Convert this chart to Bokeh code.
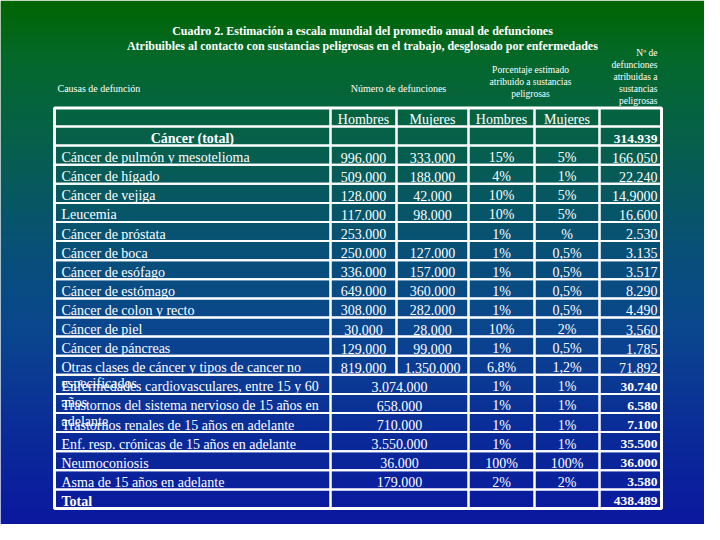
import numpy as np
from bokeh.plotting import figure
from bokeh.models import ColumnDataSource, Range1d
from bokeh.core.properties import value
from bokeh.embed import file_html
from bokeh.resources import INLINE

# ---------------- data ----------------
title_lines = [
    "Cuadro 2. Estimación a escala mundial del promedio anual de defunciones",
    "Atribuibles al contacto con sustancias peligrosas en el trabajo, desglosado por enfermedades",
]
head_causes = "Causas de defunción"
head_number = "Número de defunciones"
head_percent = ["Porcentaje estimado", "atribuido a sustancias", "peligrosas"]
head_attrib = ["Nº de", "defunciones", "atribuidas a", "sustancias", "peligrosas"]
sub_heads = ["Hombres", "Mujeres", "Hombres", "Mujeres"]

causes = [
    "Cáncer (total)",
    "Cáncer de pulmón y mesotelioma",
    "Cáncer de hígado",
    "Cáncer de vejiga",
    "Leucemia",
    "Cáncer de próstata",
    "Cáncer de boca",
    "Cáncer de esófago",
    "Cáncer de estómago",
    "Cáncer de colon y recto",
    "Cáncer de piel",
    "Cáncer de páncreas",
    "Otras clases de cáncer y tipos de cancer no",
    "Enfermedades cardiovasculares, entre 15 y 60",
    "Trastornos del sistema nervioso de 15 años en",
    "Trastornos renales de 15 años en adelante",
    "Enf. resp. crónicas de 15 años en adelante",
    "Neumoconiosis",
    "Asma de 15 años en adelante",
    "Total",
]
causes_wrap = ["", "", "", "", "", "", "", "", "", "", "", "",
               "especificados", "años", "adelante", "", "", "", "", ""]
deaths_men = ["", "996.000", "509.000", "128.000", "117.000", "253.000", "250.000",
              "336.000", "649.000", "308.000", "30.000", "129.000", "819.000",
              "3.074.000", "658.000", "710.000", "3.550.000", "36.000", "179.000", ""]
deaths_women = ["", "333.000", "188.000", "42.000", "98.000", "", "127.000",
                "157.000", "360.000", "282.000", "28.000", "99.000", "1.350.000",
                "", "", "", "", "", "", ""]
deaths_merged = [False] * 13 + [True] * 7
pct_men = ["", "15%", "4%", "10%", "10%", "1%", "1%", "1%", "1%", "1%", "10%", "1%",
           "6,8%", "1%", "1%", "1%", "1%", "100%", "2%", ""]
pct_women = ["", "5%", "1%", "5%", "5%", "%", "0,5%", "0,5%", "0,5%", "0,5%", "2%",
             "0,5%", "1,2%", "1%", "1%", "1%", "1%", "100%", "2%", ""]
attributed = ["314.939", "166.050", "22.240", "14.9000", "16.600", "2.530", "3.135",
              "3.517", "8.290", "4.490", "3.560", "1.785", "71.892", "30.740",
              "6.580", "7.100", "35.500", "36.000", "3.580", "438.489"]
attributed_bold = [True] + [False] * 12 + [True] * 7

# ---------------- layout / style ----------------
FONT = value("Liberation Serif")
PW, PH = 704, 524
col_edges = [54, 330, 396, 468, 534, 599, 661]
TABLE_TOP = 107.5
ROWS_TOP = 126.0
PITCH = 19.1
n = len(causes)

p = figure(width=PW, height=PH, output_backend="svg", toolbar_location=None,
           x_axis_type=None, y_axis_type=None,
           x_range=Range1d(0, PW), y_range=Range1d(PH, 0),
           min_border=0, outline_line_color=None)
p.grid.visible = False

# background vertical gradient (styling)
stops_y = [0, 60, 140, 250, 330, 430, 540]
stops_c = np.array([(0, 102, 0), (4, 104, 44), (6, 96, 74), (8, 80, 120),
                    (10, 70, 142), (10, 44, 152), (10, 20, 160)], dtype=float)
ys = np.arange(0, PH, 2)
cols = []
for y in ys:
    rgb = [np.interp(y + 1, stops_y, stops_c[:, k]) for k in range(3)]
    cols.append("#%02x%02x%02x" % tuple(int(round(v)) for v in rgb))
p.quad(left=0, right=PW, top=ys, bottom=ys + 3, fill_color=cols, line_color=None)

# table cells
L, R, T, B = [], [], [], []
for a, b in zip(col_edges[:-1], col_edges[1:]):
    L.append(a); R.append(b); T.append(TABLE_TOP); B.append(ROWS_TOP)
for i in range(n):
    edges = col_edges if not deaths_merged[i] else [e for e in col_edges if e != 396]
    t = ROWS_TOP + i * PITCH
    for a, b in zip(edges[:-1], edges[1:]):
        L.append(a); R.append(b); T.append(t); B.append(t + PITCH)
p.quad(left=L, right=R, top=T, bottom=B, fill_color=None,
       line_color="white", line_width=2)
p.quad(left=col_edges[0], right=col_edges[-1], top=TABLE_TOP,
       bottom=ROWS_TOP + n * PITCH, fill_color=None, line_color="white", line_width=3)


def txt(x, y, t, size, align="left", bold=False):
    src = ColumnDataSource(dict(x=x, y=y, t=t))
    p.text(x="x", y="y", text="t", source=src, text_font=FONT,
           text_font_size=size, text_color="white", text_align=align,
           text_baseline="middle", text_font_style="bold" if bold else "normal")


# titles
txt([362, 362], [30, 45], title_lines, "12px", align="center", bold=True)
txt([57], [88], [head_causes], "10px")
txt([398], [88], [head_number], "10px", align="center")
txt([530] * 3, [69, 81, 93], head_percent, "9.5px", align="center")
txt([657] * 5, [52, 64, 76, 88, 100], head_attrib, "9.5px", align="right")

# sub headers
sub_x = [(col_edges[k] + col_edges[k + 1]) / 2 for k in range(1, 5)]
txt(sub_x, [119] * 4, sub_heads, "14px", align="center")

# row texts
mid = [ROWS_TOP + i * PITCH + 12.0 for i in range(n)]
normal_idx = [i for i in range(n) if i not in (0, n - 1)]
txt([61] * len(normal_idx), [mid[i] for i in normal_idx],
    [causes[i] for i in normal_idx], "14px")
wrap_idx = [i for i in range(n) if causes_wrap[i]]
txt([61] * len(wrap_idx), [mid[i] + 16 for i in wrap_idx],
    [causes_wrap[i] for i in wrap_idx], "14px")
txt([(col_edges[0] + col_edges[1]) / 2], [mid[0]], [causes[0]], "14px",
    align="center", bold=True)
txt([61], [mid[n - 1]], [causes[n - 1]], "14px", bold=True)

men_x = [(330 + 468) / 2 if deaths_merged[i] else (330 + 396) / 2 for i in range(n)]
txt(men_x, mid, deaths_men, "14px", align="center")
txt([(396 + 468) / 2] * n, mid, deaths_women, "14px", align="center")
txt([(468 + 534) / 2] * n, mid, pct_men, "14px", align="center")
txt([(534 + 599) / 2] * n, mid, pct_women, "14px", align="center")

bi = [i for i in range(n) if attributed_bold[i]]
ni = [i for i in range(n) if not attributed_bold[i]]
txt([657] * len(ni), [mid[i] for i in ni], [attributed[i] for i in ni], "14px",
    align="right")
txt([657] * len(bi), [mid[i] for i in bi], [attributed[i] for i in bi], "13.5px",
    align="right", bold=True)

open("out.html", "w").write(file_html(p, INLINE))
